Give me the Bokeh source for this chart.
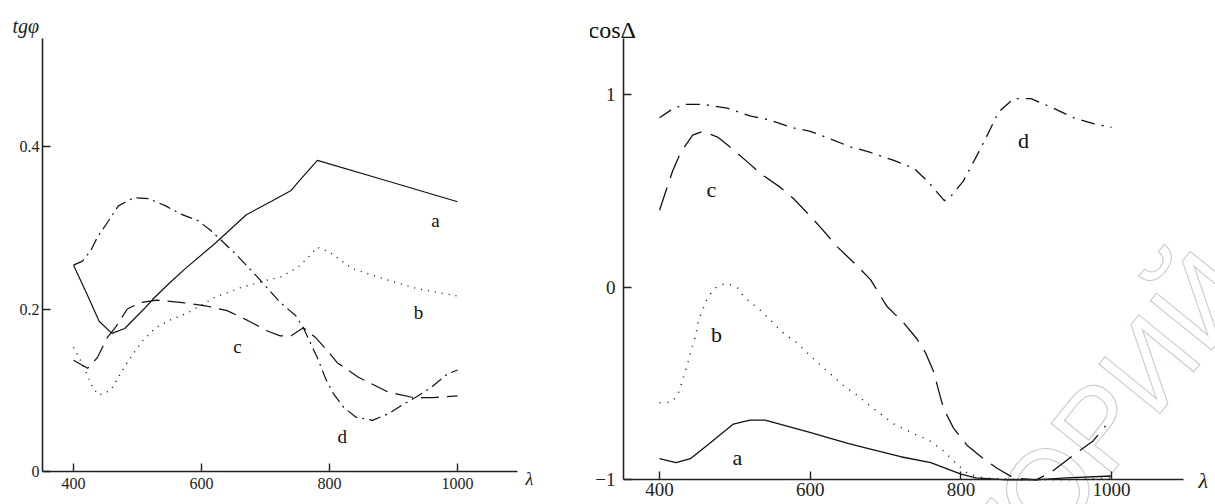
from bokeh.plotting import figure
from bokeh.models import Label, FixedTicker, Range1d, Title
from bokeh.layouts import row
from bokeh.embed import file_html
from bokeh.resources import INLINE

# ---------------- data: left panel (tg phi) ----------------
lam_a_l = [400, 420, 440, 460, 480, 510, 525, 550, 575, 620, 670, 710, 740, 755, 781, 880, 1000]
tg_a = [0.254, 0.220, 0.185, 0.170, 0.176, 0.200, 0.213, 0.232, 0.250, 0.280, 0.316, 0.333, 0.346, 0.360, 0.383, 0.360, 0.332]

lam_b_l = [400, 412, 423, 430, 440, 458, 470, 486, 508, 528, 555, 578, 620, 660, 700, 725, 750, 766, 781, 800, 835, 885, 937, 1000]
tg_b = [0.153, 0.135, 0.116, 0.103, 0.094, 0.100, 0.116, 0.137, 0.161, 0.177, 0.188, 0.195, 0.214, 0.226, 0.235, 0.240, 0.251, 0.263, 0.276, 0.270, 0.250, 0.237, 0.225, 0.216]

lam_c_l = [400, 422, 437, 453, 466, 484, 505, 530, 570, 606, 640, 672, 703, 723, 740, 759, 778, 794, 812, 845, 891, 931, 962, 1000]
tg_c = [0.137, 0.127, 0.140, 0.165, 0.178, 0.200, 0.208, 0.211, 0.208, 0.204, 0.198, 0.186, 0.173, 0.167, 0.167, 0.177, 0.165, 0.151, 0.134, 0.116, 0.098, 0.091, 0.091, 0.093]

lam_d_l = [400, 414, 427, 437, 455, 470, 494, 517, 544, 567, 594, 614, 653, 689, 723, 747, 759, 781, 794, 806, 822, 841, 867, 892, 916, 934, 958, 984, 1000]
tg_d = [0.254, 0.259, 0.272, 0.288, 0.309, 0.327, 0.337, 0.336, 0.327, 0.317, 0.309, 0.297, 0.268, 0.238, 0.208, 0.192, 0.177, 0.140, 0.114, 0.096, 0.079, 0.067, 0.063, 0.071, 0.083, 0.091, 0.103, 0.120, 0.125]

# ---------------- data: right panel (cos Delta) ----------------
lam_a_r = [400, 422, 441, 470, 498, 520, 540, 596, 650, 680, 720, 760, 780, 800, 820, 860, 900, 940, 1000]
cos_a = [-0.89, -0.91, -0.89, -0.80, -0.71, -0.69, -0.69, -0.75, -0.81, -0.84, -0.88, -0.91, -0.94, -0.97, -0.99, -1.0, -1.0, -0.99, -0.98]

lam_b_r = [400, 417, 425, 430, 437, 441, 448, 452, 457, 462, 470, 478, 490, 503, 512, 534, 547, 565, 583, 604, 618, 644, 662, 684, 711, 737, 756, 777, 795, 810, 830, 880, 940, 1000]
cos_b = [-0.60, -0.595, -0.55, -0.49, -0.40, -0.34, -0.25, -0.17, -0.12, -0.07, -0.02, 0.01, 0.02, 0.0, -0.05, -0.12, -0.17, -0.24, -0.29, -0.37, -0.42, -0.51, -0.56, -0.63, -0.71, -0.76, -0.79, -0.85, -0.92, -0.97, -0.99, -1.0, -1.0, -0.99]

lam_c_r = [400, 411, 417, 428, 435, 444, 458, 477, 490, 517, 534, 560, 578, 600, 614, 636, 660, 680, 702, 723, 742, 753, 764, 770, 777, 790, 808, 830, 848, 870, 900, 920, 950, 975, 992]
cos_c = [0.40, 0.53, 0.60, 0.70, 0.74, 0.79, 0.81, 0.78, 0.74, 0.65, 0.59, 0.52, 0.46, 0.37, 0.31, 0.21, 0.12, 0.04, -0.10, -0.18, -0.27, -0.34, -0.44, -0.53, -0.63, -0.73, -0.82, -0.89, -0.94, -0.99, -1.0, -0.96, -0.87, -0.80, -0.72]

lam_d_r = [400, 415, 432, 458, 490, 520, 545, 575, 600, 627, 653, 680, 710, 737, 756, 778, 786, 803, 822, 835, 850, 870, 893, 923, 950, 976, 1000]
cos_d = [0.88, 0.92, 0.95, 0.95, 0.93, 0.89, 0.87, 0.83, 0.81, 0.77, 0.73, 0.70, 0.66, 0.62, 0.55, 0.45, 0.47, 0.55, 0.69, 0.79, 0.91, 0.98, 0.98, 0.93, 0.88, 0.85, 0.83]

x_ticks = [400, 600, 800, 1000]
left_y_ticks = [0, 0.2, 0.4]
right_y_ticks = [-1, 0, 1]

SERIF = "Liberation Serif"
INK = "#111111"


def style_axes(p, tick_font, x_standoff, y_standoff):
    p.grid.visible = False
    p.outline_line_color = None
    p.background_fill_color = "white"
    p.border_fill_color = "white"
    for ax in (p.xaxis[0], p.yaxis[0]):
        ax.axis_line_color = "#222222"
        ax.axis_line_width = 1.6
        ax.major_tick_line_color = "#222222"
        ax.major_tick_line_width = 1.4
        ax.major_tick_in = 8
        ax.major_tick_out = 0
        ax.minor_tick_line_color = None
        ax.major_label_text_font = SERIF
        ax.major_label_text_font_size = tick_font
        ax.major_label_text_color = "#222222"
    p.xaxis[0].major_label_standoff = x_standoff
    p.yaxis[0].major_label_standoff = y_standoff


# ---------------- left figure ----------------
pl = figure(width=590, height=504, output_backend="svg", toolbar_location=None,
            x_range=Range1d(351.5, 1207.75), y_range=Range1d(-0.0406, 0.533),
            min_border_left=42, min_border_right=0, min_border_top=38, min_border_bottom=0)
style_axes(pl, "16px", 6, 3)
pl.xaxis[0].bounds = (351.5, 1093.7)
pl.xaxis[0].fixed_location = 0
pl.yaxis[0].bounds = (0, 0.533)
pl.xaxis[0].ticker = FixedTicker(ticks=x_ticks)
pl.yaxis[0].ticker = FixedTicker(ticks=left_y_ticks)
pl.yaxis[0].major_label_overrides = {0: "0", 0.2: "0.2", 0.4: "0.4"}
pl.title = Title(text="tgφ", align="left", offset=-30, standoff=4, text_font=SERIF,
                 text_font_style="italic", text_font_size="20px", text_color="#222222")

pl.line(lam_a_l, tg_a, line_color=INK, line_width=1.2)
pl.line(lam_b_l, tg_b, line_color=INK, line_width=1.4, line_dash="1 6")
pl.line(lam_c_l, tg_c, line_color=INK, line_width=1.2, line_dash="18 8")
pl.line(lam_d_l, tg_d, line_color=INK, line_width=1.2, line_dash="12 5 2 5")

for t, x, y in [("a", 965.6, 0.309), ("b", 939, 0.196), ("c", 656, 0.154), ("d", 820, 0.043)]:
    pl.add_layout(Label(x=x, y=y, text=t, text_font=SERIF, text_font_size="19px",
                        text_align="center", text_baseline="middle", text_color=INK))
pl.add_layout(Label(x=1106, y=-0.0086, text="λ", text_font=SERIF, text_font_style="italic",
                    text_font_size="18px", text_align="left", text_baseline="middle", text_color="#222222"))

# ---------------- right figure ----------------
pr = figure(width=625, height=504, output_backend="svg", toolbar_location=None,
            x_range=Range1d(352.2, 1137.9), y_range=Range1d(-1.128, 1.292),
            min_border_left=33, min_border_right=0, min_border_top=32, min_border_bottom=0)
style_axes(pr, "19px", 3, 8)
pr.xaxis[0].bounds = (352.2, 1095.4)
pr.xaxis[0].fixed_location = -1
pr.yaxis[0].bounds = (-1, 1.292)
pr.xaxis[0].ticker = FixedTicker(ticks=x_ticks)
pr.yaxis[0].ticker = FixedTicker(ticks=right_y_ticks)
pr.yaxis[0].major_label_overrides = {-1: "−1", 0: "0", 1: "1"}
pr.title = Title(text="cosΔ", align="left", offset=-35, standoff=-8, text_font=SERIF,
                 text_font_style="normal", text_font_size="24px", text_color="#111111")

# faint repository watermark, partly outside the picture
pr.add_layout(Label(x=1152.5, y=0.097, text="РЕПОЗИТОРИЙ", text_font="Liberation Sans",
                    text_font_size="114px", angle=0.89, text_align="right", text_baseline="middle",
                    text_color="white", text_outline_color="#c3c7d0", level="underlay"))

pr.line(lam_a_r, cos_a, line_color=INK, line_width=1.3)
pr.line(lam_b_r, cos_b, line_color=INK, line_width=1.5, line_dash="1 7")
pr.line(lam_c_r, cos_c, line_color=INK, line_width=1.3, line_dash="24 10")
pr.line(lam_d_r, cos_d, line_color=INK, line_width=1.3, line_dash="14 7 2 7")

for t, x, y in [("a", 503.5, -0.882), ("b", 475.6, -0.246), ("c", 469, 0.508), ("d", 883, 0.764)]:
    pr.add_layout(Label(x=x, y=y, text=t, text_font=SERIF, text_font_size="22px",
                        text_align="center", text_baseline="middle", text_color=INK))
pr.add_layout(Label(x=1115.3, y=-1.005, text="λ", text_font=SERIF, text_font_style="italic",
                    text_font_size="22px", text_align="left", text_baseline="middle", text_color="#222222"))

layout = row(pl, pr)
open("out.html", "w").write(file_html(layout, INLINE))
